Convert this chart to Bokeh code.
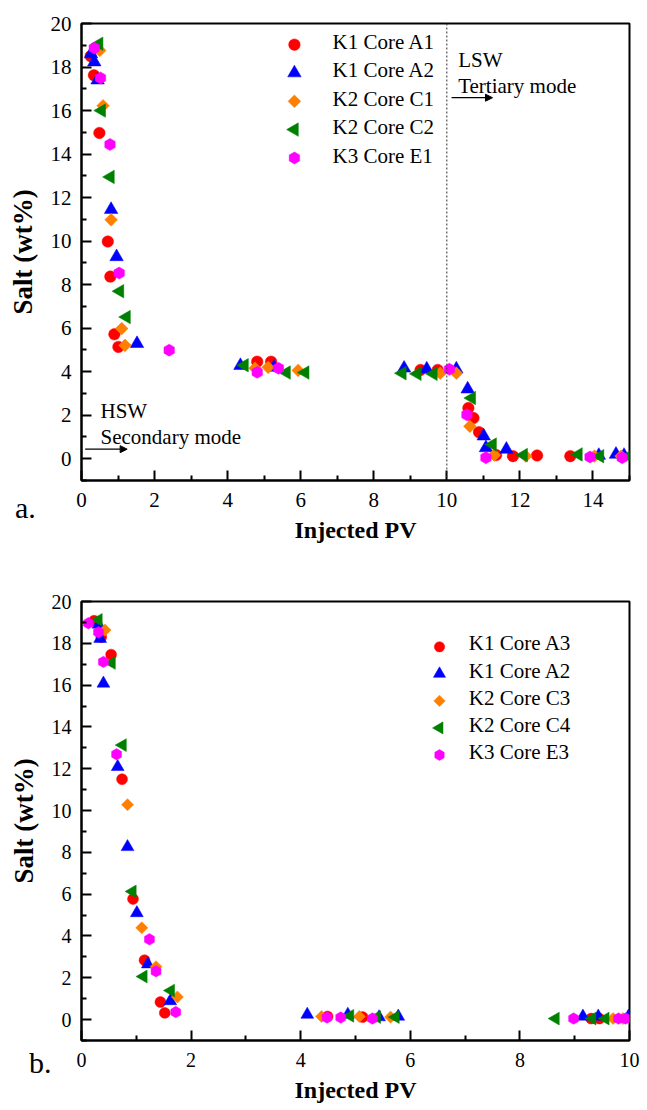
import numpy as np
from bokeh.plotting import figure
from bokeh.models import (Range1d, FixedTicker, Span, Label, Arrow, NormalHead, Div)
from bokeh.layouts import column
from bokeh.embed import file_html
from bokeh.resources import INLINE

# ---------------- Panel a data ----------------
a_labels = ["K1 Core A1", "K1 Core A2", "K2 Core C1", "K2 Core C2", "K3 Core E1"]
a_A1_x = [0.25, 0.34, 0.49, 0.72, 0.79, 0.90, 1.01, 4.81, 5.19, 9.28, 9.75, 10.59, 10.73, 10.88, 11.35, 11.81, 12.47, 13.38]
a_A1_y = [18.5, 17.62, 14.97, 9.98, 8.37, 5.72, 5.14, 4.46, 4.46, 4.08, 4.08, 2.33, 1.87, 1.22, 0.17, 0.12, 0.15, 0.12]
a_A2_x = [0.26, 0.35, 0.44, 0.81, 0.96, 1.52, 4.35, 5.27, 8.83, 9.45, 10.26, 10.57, 11.01, 11.07, 11.63, 14.16, 14.63, 14.85]
a_A2_y = [18.6, 18.23, 17.4, 11.45, 9.28, 5.29, 4.28, 4.2, 4.16, 4.12, 4.12, 3.2, 1.04, 0.5, 0.43, 0.15, 0.2, 0.15]
a_C1_x = [0.50, 0.59, 0.81, 1.10, 1.19, 4.75, 5.11, 5.93, 9.82, 10.26, 10.63, 11.30, 12.16, 14.04, 14.77]
a_C1_y = [18.76, 16.22, 10.98, 5.98, 5.21, 4.16, 4.2, 4.06, 3.93, 3.93, 1.49, 0.17, 0.12, 0.12, 0.12]
a_C2_x = [0.48, 0.55, 0.79, 1.05, 1.23, 4.46, 5.61, 6.12, 8.78, 9.19, 9.63, 10.68, 11.25, 12.10, 13.6, 14.19, 14.98]
a_C2_y = [19.07, 16.0, 12.95, 7.70, 6.51, 4.3, 3.96, 3.96, 3.93, 3.9, 3.9, 2.79, 0.65, 0.17, 0.2, 0.12, 0.12]
a_E1_x = [0.35, 0.52, 0.78, 1.03, 2.40, 4.81, 5.39, 10.07, 10.55, 11.07, 13.92, 14.80]
a_E1_y = [18.87, 17.5, 14.44, 8.53, 4.99, 3.97, 4.16, 4.11, 2.02, 0.05, 0.08, 0.05]

# ---------------- Panel b data ----------------
b_labels = ["K1 Core A3", "K1 Core A2", "K2 Core C3", "K2 Core C4", "K3 Core E3"]
b_A3_x = [0.23, 0.36, 0.54, 0.74, 0.94, 1.15, 1.44, 1.52, 4.49, 5.13, 9.30, 9.45]
b_A3_y = [19.08, 18.3, 17.46, 11.5, 5.77, 2.84, 0.84, 0.32, 0.15, 0.12, 0.05, 0.05]
b_A2_x = [0.31, 0.34, 0.40, 0.66, 0.84, 1.01, 1.21, 1.62, 4.12, 4.86, 5.43, 5.78, 9.15, 9.43, 9.98]
b_A2_y = [18.9, 18.22, 16.08, 12.09, 8.26, 5.1, 2.65, 0.89, 0.24, 0.24, 0.12, 0.15, 0.15, 0.15, 0.15]
b_C3_x = [0.43, 0.84, 1.10, 1.36, 1.75, 4.38, 5.07, 5.64, 9.70, 9.88]
b_C3_y = [18.64, 10.28, 4.39, 2.53, 1.08, 0.15, 0.15, 0.12, 0.05, 0.05]
b_C4_x = [0.31, 0.55, 0.75, 0.93, 1.13, 1.63, 4.90, 5.39, 5.73, 8.65, 9.32, 9.56]
b_C4_y = [19.12, 17.06, 13.13, 6.13, 2.06, 1.39, 0.18, 0.12, 0.12, 0.05, 0.05, 0.05]
b_E3_x = [0.125, 0.31, 0.40, 0.64, 1.24, 1.36, 1.72, 4.48, 4.73, 5.31, 8.98, 9.80, 9.93]
b_E3_y = [18.96, 18.53, 17.11, 12.69, 3.84, 2.31, 0.36, 0.1, 0.1, 0.05, 0.05, 0.05, 0.05]

x_title = "Injected PV"
y_title = "Salt (wt%)"

FONT = "Liberation Serif"
COLORS = ["#FF0000", "#0000FF", "#FF8000", "#008000", "#FF00FF"]
# marker, angle, size
STYLES = [("circle", 0.0, 11.5), ("triangle", 0.0, 13.5), ("square", np.pi / 4, 9),
          ("triangle", np.pi / 2, 13.5), ("hex", np.pi / 2, 12)]


def style_axes(p, xt, xm, yt, ym, tick_size):
    p.xgrid.visible = False
    p.ygrid.visible = False
    p.outline_line_color = "black"
    p.outline_line_width = 2
    p.background_fill_color = "white"
    p.border_fill_color = "white"
    for ax, t, m in ((p.xaxis[0], xt, xm), (p.yaxis[0], yt, ym)):
        ax.ticker = FixedTicker(ticks=t, minor_ticks=m)
        ax.axis_line_width = 2
        ax.axis_line_color = "black"
        ax.major_tick_in = 10
        ax.major_tick_out = 0
        ax.minor_tick_in = 5
        ax.minor_tick_out = 0
        ax.major_tick_line_width = 2
        ax.minor_tick_line_width = 2
        ax.major_label_text_font = FONT
        ax.major_label_text_font_size = tick_size
        ax.major_label_text_color = "black"
        ax.axis_label_text_font = FONT
        ax.axis_label_text_font_style = "bold"
        ax.axis_label_text_color = "black"
    p.xaxis[0].axis_label_text_font_size = "24px"
    p.yaxis[0].axis_label_text_font_size = "27px"
    p.xaxis[0].major_label_standoff = 12
    p.yaxis[0].major_label_standoff = 10
    p.xaxis[0].axis_label = x_title
    p.yaxis[0].axis_label = y_title
    p.xaxis[0].axis_label_standoff = 7
    p.yaxis[0].axis_label_standoff = 10


def add_series(p, xs, ys, scale):
    for i, (x, y) in enumerate(zip(xs, ys)):
        m, ang, s = STYLES[i]
        p.scatter(x, y, marker=m, angle=ang, size=s * scale,
                  fill_color=COLORS[i], line_color=COLORS[i], line_width=0.5)


def add_legend(p, labels, fw, fh, kx, ky0, dy, tx, scale):
    # legend drawn in frame pixel space (kx, ky0 measured from the frame's top-left)
    p.extra_x_ranges = {"px": Range1d(0, fw)}
    p.extra_y_ranges = {"px": Range1d(0, fh)}
    for i, lab in enumerate(labels):
        m, ang, s = STYLES[i]
        yy = fh - (ky0 + dy * i)
        p.scatter([kx], [yy], marker=m, angle=ang, size=s * scale,
                  fill_color=COLORS[i], line_color=COLORS[i], line_width=0.5,
                  x_range_name="px", y_range_name="px")
        p.add_layout(Label(x=tx, y=yy, x_units="screen", y_units="screen", text=lab,
                           text_font=FONT, text_font_size="21px", text_baseline="middle",
                           text_color="black"))


def panel_tag(text, left, top):
    return Div(text=text, width=30, height=34,
               styles={"position": "absolute", "left": f"{left}px", "top": f"{top}px",
                       "font-family": FONT, "font-size": "30px", "line-height": "30px",
                       "color": "black", "margin": "0", "padding": "0"})


# ---------------- Figure a ----------------
pa = figure(width=647, height=545, output_backend="svg", toolbar_location=None,
            x_range=Range1d(0, 15), y_range=Range1d(-1, 20),
            min_border_left=79, min_border_right=1, min_border_top=23, min_border_bottom=62)
style_axes(pa, list(range(0, 15, 2)), list(range(1, 16, 2)),
           list(range(0, 21, 2)), [-1] + list(range(1, 20, 2)), "21px")
add_series(pa, [a_A1_x, a_A2_x, a_C1_x, a_C2_x, a_E1_x],
           [a_A1_y, a_A2_y, a_C1_y, a_C2_y, a_E1_y], 1.0)
add_legend(pa, a_labels, 567, 460, 220.3, 21.3, 28.5, 251, 1.0)

pa.add_layout(Span(location=10, dimension="height", line_color="#333333",
                   line_dash="2 2", line_width=1))
for txt, x, y in (("HSW", 0.52, 2.18), ("Secondary mode", 0.52, 0.99),
                  ("LSW", 10.31, 18.34), ("Tertiary mode", 10.31, 17.12)):
    pa.add_layout(Label(x=x, y=y, text=txt, text_font=FONT, text_font_size="21px",
                        text_baseline="alphabetic", text_color="black"))
pa.add_layout(Arrow(end=NormalHead(size=7, fill_color="black", line_color="black"),
                    x_start=0.1, y_start=0.44, x_end=1.25, y_end=0.44,
                    line_width=1.2, line_color="black"))
pa.add_layout(Arrow(end=NormalHead(size=7, fill_color="black", line_color="black"),
                    x_start=10.13, y_start=16.59, x_end=11.25, y_end=16.59,
                    line_width=1.2, line_color="black"))

# ---------------- Figure b ----------------
pb = figure(width=647, height=560, output_backend="svg", toolbar_location=None,
            x_range=Range1d(0, 10), y_range=Range1d(-1, 20),
            min_border_left=81, min_border_right=18, min_border_top=56, min_border_bottom=61)
style_axes(pb, list(range(0, 11, 2)), list(range(1, 10, 2)),
           list(range(0, 21, 2)), [-1] + list(range(1, 20, 2)), "20px")
add_series(pb, [b_A3_x, b_A2_x, b_C3_x, b_C4_x, b_E3_x],
           [b_A3_y, b_A2_y, b_C3_y, b_C4_y, b_E3_y], 0.95)
add_legend(pb, b_labels, 548, 443, 358, 45.7, 27.3, 387.3, 0.9)

layout = column(pa, pb, panel_tag("a.", 15, 493), panel_tag("b.", 29, 1048), spacing=0)
open("out.html", "w").write(file_html(layout, INLINE))
